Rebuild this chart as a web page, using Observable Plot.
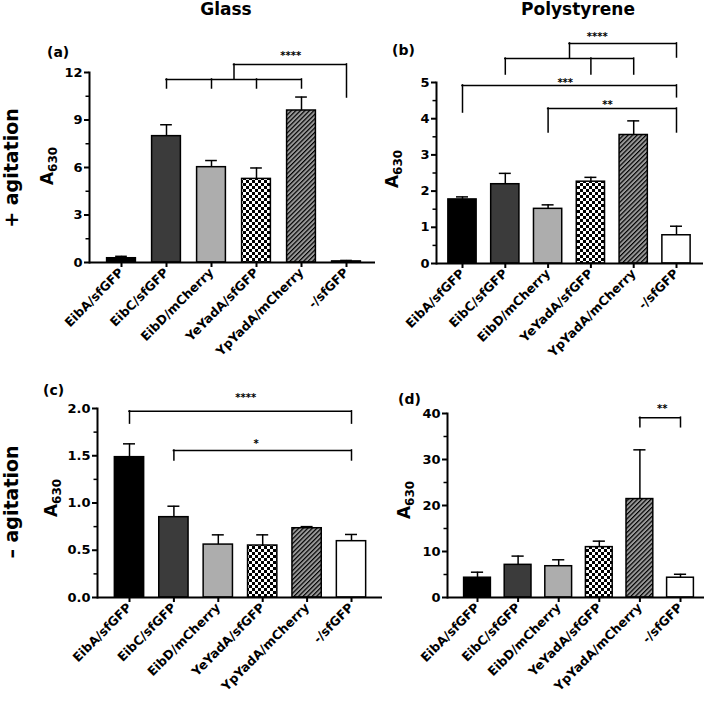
<!DOCTYPE html>
<html><head><meta charset="utf-8">
<script src="https://cdn.jsdelivr.net/npm/d3@7"></script>
<script src="https://cdn.jsdelivr.net/npm/@observablehq/plot@0.6"></script>
<style>
body{margin:0;background:#fff;font-family:"DejaVu Sans",sans-serif;}
#fig{position:relative;width:709px;height:701px;overflow:hidden;background:#fff;}
.panel{position:absolute;}
#overlay{position:absolute;left:0;top:0;pointer-events:none;}
</style></head><body><div id="fig">
<svg width="0" height="0" style="position:absolute"><defs>
<pattern id="checker" width="6" height="6" patternUnits="userSpaceOnUse"><rect width="6" height="6" fill="#fff"/><rect width="3" height="3" fill="#000"/><rect x="3" y="3" width="3" height="3" fill="#000"/></pattern>
<pattern id="hatch" width="3.2" height="3.2" patternUnits="userSpaceOnUse" patternTransform="rotate(45)"><rect width="3.2" height="3.2" fill="#9a9a9a"/><line x1="0.6" y1="0" x2="0.6" y2="3.2" stroke="#000" stroke-width="1.2"/></pattern>
</defs></svg>
</div>
<script>
const categories = ["EibA/sfGFP", "EibC/sfGFP", "EibD/mCherry", "YeYadA/sfGFP", "YpYadA/mCherry", "-/sfGFP"];
const barFills = ["#000000", "#3b3b3b", "#adadad", "url(#checker)", "url(#hatch)", "#ffffff"];

// (a) Glass, + agitation
const glassAgitMean = [0.27, 7.98, 6.02, 5.28, 9.6, 0.07];
const glassAgitErr  = [0.12, 0.72, 0.42, 0.69, 0.85, 0.06];
// (b) Polystyrene, + agitation
const polyAgitMean = [1.77, 2.19, 1.51, 2.26, 3.55, 0.78];
const polyAgitErr  = [0.07, 0.30, 0.11, 0.12, 0.39, 0.25];
// (c) Glass, - agitation
const glassStatMean = [1.485, 0.85, 0.56, 0.55, 0.733, 0.596];
const glassStatErr  = [0.141, 0.116, 0.103, 0.113, 0.017, 0.071];
// (d) Polystyrene, - agitation
const polyStatMean = [4.3, 7.1, 6.8, 10.95, 21.4, 4.3];
const polyStatErr  = [1.2, 1.9, 1.4, 1.3, 10.7, 0.75];

// y-axis ticks
const yTicksA = [0, 3, 6, 9, 12], yMinorA = [1.5, 4.5, 7.5, 10.5];
const yTicksB = [0, 1, 2, 3, 4, 5], yMinorB = [0.5, 1.5, 2.5, 3.5, 4.5];
const yTicksC = [0, 0.5, 1, 1.5, 2], yMinorC = [0.25, 0.75, 1.25, 1.75];
const yTicksD = [0, 10, 20, 30, 40], yMinorD = [5, 15, 25, 35];

// significance brackets (x = category index, y = data units)
const bracketHA = [{x1: 1, x2: 4, y: 11.56}, {x1: 2.5, x2: 5, y: 12.51}];
const bracketVA = [{x: 1, y1: 11.56, y2: 10.99}, {x: 2, y1: 11.56, y2: 10.99}, {x: 3, y1: 11.56, y2: 10.99}, {x: 4, y1: 11.56, y2: 10.99}, {x: 2.5, y1: 11.56, y2: 12.51}, {x: 5, y1: 12.51, y2: 10.42}];
const starsA = [{x: 3.76, y: 13.27, label: "****"}];

const bracketHB = [{x1: 1, x2: 4, y: 5.66}, {x1: 2.5, x2: 5, y: 6.08}, {x1: 0, x2: 5, y: 4.92}, {x1: 2, x2: 5, y: 4.28}];
const bracketVB = [{x: 1, y1: 5.66, y2: 5.22}, {x: 3, y1: 5.66, y2: 5.22}, {x: 4, y1: 5.66, y2: 5.22}, {x: 2.5, y1: 5.66, y2: 6.08}, {x: 5, y1: 6.08, y2: 5.69},
  {x: 0, y1: 4.92, y2: 4.17}, {x: 5, y1: 4.92, y2: 4.59}, {x: 2, y1: 4.28, y2: 3.62}, {x: 5, y1: 4.28, y2: 3.62}];
const starsB = [{x: 3.15, y: 6.35, label: "****"}, {x: 2.4, y: 5.08, label: "***"}, {x: 3.39, y: 4.48, label: "**"}];

const bracketHC = [{x1: 0, x2: 5, y: 1.97}, {x1: 1, x2: 5, y: 1.556}];
const bracketVC = [{x: 0, y1: 1.97, y2: 1.84}, {x: 5, y1: 1.97, y2: 1.84}, {x: 1, y1: 1.556, y2: 1.45}, {x: 5, y1: 1.556, y2: 1.45}];
const starsC = [{x: 2.62, y: 2.14, label: "****"}, {x: 2.85, y: 1.66, label: "*"}];

const bracketHD = [{x1: 4, x2: 5, y: 39.1}];
const bracketVD = [{x: 4, y1: 39.1, y2: 37.0}, {x: 5, y1: 39.1, y2: 37.0}];
const starsD = [{x: 4.55, y: 41.7, label: "**"}];

function drawPanel(cfg) {
  const rows = categories.map((c, i) => ({i, cat: c, mean: cfg.mean[i], err: cfg.err[i], fill: barFills[i]}));
  const plot = Plot.plot({
    width: cfg.w, height: cfg.h,
    marginLeft: cfg.ml, marginRight: cfg.mr, marginTop: cfg.mt, marginBottom: cfg.mb,
    x: {type: "linear", domain: [0, 5], range: cfg.xr},
    y: {domain: cfg.yDomain},
    color: {type: "identity"},
    style: {background: "transparent", overflow: "visible", fontFamily: "'DejaVu Sans', sans-serif", fontWeight: "bold", color: "#000"},
    marks: [
      Plot.ruleX(rows, {x: "i", y1: "mean", y2: d => d.mean + d.err, stroke: "#000", strokeWidth: 1.5}),
      Plot.ruleY(rows, {y: d => d.mean + d.err, x1: d => d.i - cfg.cap, x2: d => d.i + cfg.cap, stroke: "#000", strokeWidth: 1.5}),
      Plot.rectY(rows, {x1: d => d.i - cfg.hw, x2: d => d.i + cfg.hw, y1: 0, y2: "mean", fill: "fill", stroke: "#000", strokeWidth: 1.5}),
      Plot.ruleY(cfg.bh, {y: "y", x1: "x1", x2: "x2", stroke: "#000", strokeWidth: 1.5, strokeLinecap: "square"}),
      Plot.ruleX(cfg.bv, {x: "x", y1: "y1", y2: "y2", stroke: "#000", strokeWidth: 1.5, strokeLinecap: "square"}),
      Plot.text(cfg.stars, {x: "x", y: "y", text: "label", fontSize: 10, dy: 3, fontWeight: "bold"}),
      Plot.axisY(cfg.yTicks, {tickSize: 5, tickPadding: 2, strokeWidth: 2, fontSize: 13, tickFormat: cfg.fmt, label: null}),
      Plot.axisY(cfg.yMinor, {tickSize: 3.5, strokeWidth: 1.5, tickFormat: () => "", label: null}),
      Plot.axisX([0, 1, 2, 3, 4, 5], {tickSize: 5, tickPadding: 3, tickRotate: -45, fontSize: 12.5, tickFormat: i => categories[i], strokeWidth: 2, label: null}),
      Plot.frame({anchor: "left", strokeWidth: 2}),
      Plot.ruleY([0], {stroke: "#000", strokeWidth: 2})
    ]
  });
  const div = document.createElement("div");
  div.className = "panel";
  div.style.left = cfg.left + "px";
  div.style.top = cfg.top + "px";
  div.style.width = cfg.w + "px";
  div.appendChild(plot);
  document.getElementById("fig").appendChild(div);
}

// page layout of each panel: (a) top-left, (b) top-right, (c) bottom-left, (d) bottom-right
drawPanel({left: 0, top: 30, w: 385, h: 330, ml: 89, mr: 10, mt: 42, mb: 98, xr: [121, 346],
  yDomain: [0, 12], yTicks: yTicksA, yMinor: yMinorA, fmt: d3.format("d"), mean: glassAgitMean, err: glassAgitErr,
  hw: 0.32, cap: 0.13, bh: bracketHA, bv: bracketVA, stars: starsA});
drawPanel({left: 355, top: 0, w: 354, h: 360, ml: 81, mr: 6, mt: 82, mb: 97, xr: [107, 321],
  yDomain: [0, 5], yTicks: yTicksB, yMinor: yMinorB, fmt: d3.format("d"), mean: polyAgitMean, err: polyAgitErr,
  hw: 0.33, cap: 0.14, bh: bracketHB, bv: bracketVB, stars: starsB});
drawPanel({left: 0, top: 360, w: 390, h: 341, ml: 97, mr: 8, mt: 48, mb: 104, xr: [129, 351],
  yDomain: [0, 2], yTicks: yTicksC, yMinor: yMinorC, fmt: d3.format(".1f"), mean: glassStatMean, err: glassStatErr,
  hw: 0.33, cap: 0.135, bh: bracketHC, bv: bracketVC, stars: starsC});
drawPanel({left: 355, top: 360, w: 354, h: 341, ml: 92, mr: 5, mt: 53, mb: 104, xr: [122, 325],
  yDomain: [0, 40], yTicks: yTicksD, yMinor: yMinorD, fmt: d3.format("d"), mean: polyStatMean, err: polyStatErr,
  hw: 0.33, cap: 0.15, bh: bracketHD, bv: bracketVD, stars: starsD});

// titles and labels
const NS = "http://www.w3.org/2000/svg";
const ov = document.createElementNS(NS, "svg");
ov.setAttribute("id", "overlay");
ov.setAttribute("width", 709); ov.setAttribute("height", 701);
ov.setAttribute("font-family", "'DejaVu Sans', sans-serif");
ov.setAttribute("font-weight", "bold");
ov.innerHTML = `
<text x="226" y="15" font-size="17" text-anchor="middle">Glass</text>
<text x="578" y="15" font-size="17" text-anchor="middle">Polystyrene</text>
<text transform="translate(18,168) rotate(-90)" font-size="19" text-anchor="middle">+ agitation</text>
<text transform="translate(18,502) rotate(-90)" font-size="19" text-anchor="middle">– agitation</text>
<text x="47" y="57" font-size="14">(a)</text>
<text x="392" y="55" font-size="14">(b)</text>
<text x="43" y="395" font-size="14">(c)</text>
<text x="398" y="404" font-size="14">(d)</text>
<text transform="translate(53,166) rotate(-90)" font-size="17" text-anchor="middle">A<tspan font-size="12" dy="4">630</tspan></text>
<text transform="translate(398,169) rotate(-90)" font-size="17" text-anchor="middle">A<tspan font-size="12" dy="4">630</tspan></text>
<text transform="translate(57,498) rotate(-90)" font-size="17" text-anchor="middle">A<tspan font-size="12" dy="4">630</tspan></text>
<text transform="translate(410,500) rotate(-90)" font-size="17" text-anchor="middle">A<tspan font-size="12" dy="4">630</tspan></text>
`;
document.getElementById("fig").appendChild(ov);
</script></body></html>
